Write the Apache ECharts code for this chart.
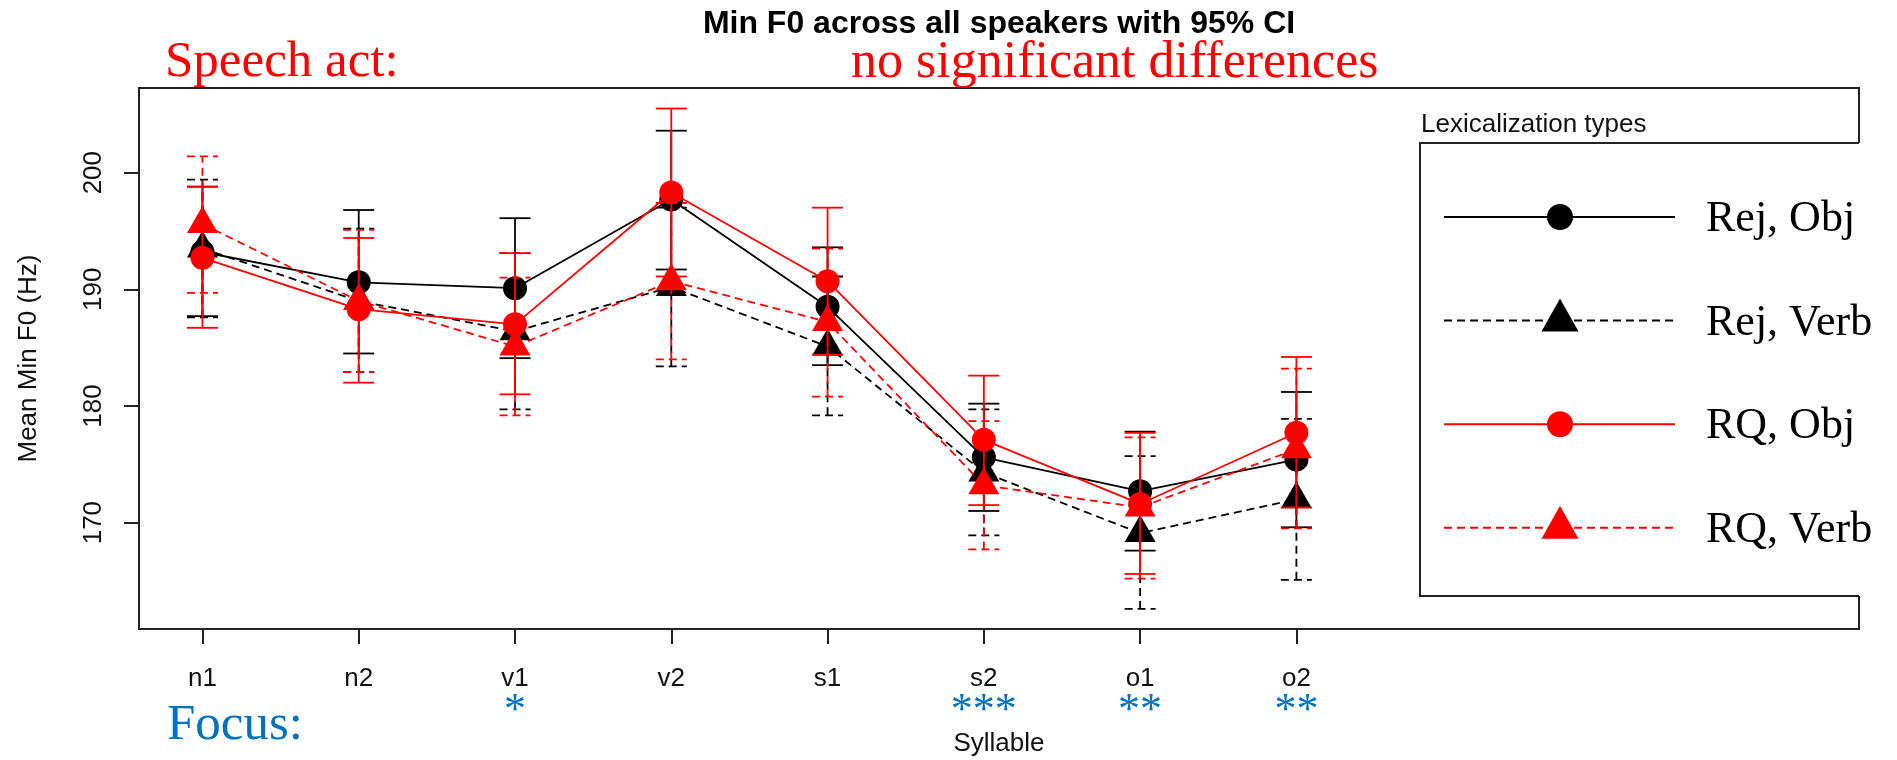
<!DOCTYPE html>
<html>
<head>
<meta charset="utf-8">
<title>Min F0 across all speakers with 95% CI</title>
<script src="https://cdn.jsdelivr.net/npm/echarts@6/dist/echarts.min.js"></script>
<style>
html, body { margin: 0; padding: 0; background: #fff; }
#chart { width: 1897px; height: 760px; }
</style>
</head>
<body>
<div id="chart"></div>
<script>
// syllables on the x axis, and the focus significance marks under them
var syllables = ['n1', 'n2', 'v1', 'v2', 's1', 's2', 'o1', 'o2'];
var focusMarks = ['', '', '*', '', '', '***', '**', '**'];
var yTicks = [170, 180, 190, 200];
var groupNames = ['Rej, Obj', 'Rej, Verb', 'RQ, Obj', 'RQ, Verb'];

// mean Min F0 (Hz) with lower / upper 95% CI, one set per lexicalization type
var rejObjMean = [193.2, 190.6, 190.1, 197.7, 188.5, 175.6, 172.7, 175.4];
var rejObjLow  = [187.7, 184.5, 184.1, 191.7, 183.5, 171.0, 167.6, 169.6];
var rejObjHigh = [198.8, 196.8, 196.1, 203.6, 193.6, 180.2, 177.8, 181.2];

var rejVerbMean = [193.5, 189.0, 186.4, 190.2, 185.1, 174.3, 169.1, 172.0];
var rejVerbLow  = [187.6, 182.9, 179.7, 183.4, 179.2, 168.9, 162.6, 165.1];
var rejVerbHigh = [199.4, 195.2, 193.1, 197.0, 191.1, 179.7, 175.7, 178.9];

var rqObjMean = [192.7, 188.3, 187.0, 198.3, 190.7, 177.1, 171.6, 177.7];
var rqObjLow  = [186.7, 182.0, 181.0, 191.1, 184.4, 171.5, 165.6, 171.3];
var rqObjHigh = [198.8, 194.4, 193.1, 205.5, 197.0, 182.6, 177.7, 184.2];

var rqVerbMean = [195.6, 189.0, 185.1, 190.7, 187.2, 173.2, 171.3, 176.3];
var rqVerbLow  = [189.7, 182.9, 179.2, 184.0, 180.8, 167.7, 165.2, 169.5];
var rqVerbHigh = [201.4, 195.1, 191.0, 197.4, 193.5, 178.7, 177.3, 183.2];

var groups = [
    { mean: rejObjMean, low: rejObjLow, high: rejObjHigh },
    { mean: rejVerbMean, low: rejVerbLow, high: rejVerbHigh },
    { mean: rqObjMean, low: rqObjLow, high: rqObjHigh },
    { mean: rqVerbMean, low: rqVerbLow, high: rqVerbHigh }
];

// looks
var groupStyles = [
    { color: '#000000', dashed: false, symbol: 'circle' },
    { color: '#000000', dashed: true, symbol: 'triangle' },
    { color: '#ff0000', dashed: false, symbol: 'circle' },
    { color: '#ff0000', dashed: true, symbol: 'triangle' }
];
var dash = [8, 5];
var lineW = 1.8;
var capHalf = 15.5;
var sans = '"Liberation Sans", Arial, sans-serif';
var serif = '"Liberation Serif", "Times New Roman", serif';
var blue = '#0070c0';
var frameColor = '#222';

var tickPos = syllables.map(function (s, i) { return i + 1; });

function symbolSize(st) { return st.symbol === 'circle' ? 24 : [31, 27]; }
function symbolOffset(st) { return st.symbol === 'circle' ? [0, 0] : [0, -4.5]; }

function errorBars(st) {
    return function (params, api) {
        var x = api.value(0);
        var lo = api.coord([x, api.value(1)]);
        var hi = api.coord([x, api.value(2)]);
        function s() {
            return { stroke: st.color, lineWidth: lineW, lineDash: st.dashed ? dash : null, fill: null };
        }
        return {
            type: 'group',
            children: [
                { type: 'line', shape: { x1: lo[0], y1: lo[1], x2: hi[0], y2: hi[1] }, style: s() },
                { type: 'line', shape: { x1: lo[0] - capHalf, y1: lo[1], x2: lo[0] + capHalf, y2: lo[1] }, style: s() },
                { type: 'line', shape: { x1: hi[0] - capHalf, y1: hi[1], x2: hi[0] + capHalf, y2: hi[1] }, style: s() }
            ]
        };
    };
}

var series = [];
groups.forEach(function (g, k) {
    var st = groupStyles[k];
    series.push({
        name: groupNames[k],
        type: 'line',
        z: 2 + 2 * k,
        data: g.mean.map(function (v, i) { return [i + 1, v]; }),
        symbol: st.symbol,
        symbolSize: symbolSize(st),
        symbolOffset: symbolOffset(st),
        showAllSymbol: true,
        itemStyle: { color: st.color, borderWidth: 0 },
        lineStyle: { color: st.color, width: lineW, type: st.dashed ? dash : 'solid' },
        emphasis: { disabled: true }
    });
    series.push({
        name: groupNames[k] + ' CI',
        type: 'custom',
        z: 3 + 2 * k,
        renderItem: errorBars(st),
        encode: { x: 0, y: [1, 2] },
        data: g.mean.map(function (v, i) { return [i + 1, g.low[i], g.high[i]]; })
    });
});

// legend box drawn by hand (R style)
var lg = { left: 1420, top: 143, bottom: 596, right: 1859, lineX1: 1444, lineX2: 1675, markX: 1560, textX: 1706, row0: 217, rowStep: 103.6 };
var graphics = [
    { type: 'rect', z: 100, shape: { x: lg.left, y: lg.top, width: 1897 - lg.left, height: lg.bottom - lg.top }, style: { fill: '#fff', stroke: null } },
    { type: 'polyline', z: 101, shape: { points: [[lg.right, lg.top], [lg.left, lg.top], [lg.left, lg.bottom], [lg.right, lg.bottom]] }, style: { stroke: frameColor, lineWidth: 2, fill: null } },
    { type: 'text', z: 101, x: lg.left + 1, y: 125, style: { text: 'Lexicalization types', font: '26px ' + sans, fill: '#111', align: 'left', verticalAlign: 'middle' } },
    { type: 'text', z: 101, x: 999, y: 24, style: { text: 'Min F0 across all speakers with 95% CI', font: 'bold 32px ' + sans, fill: '#000', align: 'center', verticalAlign: 'middle' } },
    { type: 'text', z: 101, x: 165, y: 63, style: { text: 'Speech act:', font: '51px ' + serif, fill: '#ff0000', align: 'left', verticalAlign: 'middle' } },
    { type: 'text', z: 101, x: 851, y: 63, style: { text: 'no significant differences', font: '52px ' + serif, fill: '#ff0000', align: 'left', verticalAlign: 'middle' } },
    { type: 'text', z: 101, x: 167, y: 726, style: { text: 'Focus:', font: '51px ' + serif, fill: blue, align: 'left', verticalAlign: 'middle' } }
];
groupNames.forEach(function (name, k) {
    var st = groupStyles[k];
    var y = lg.row0 + k * lg.rowStep;
    graphics.push({ type: 'line', z: 101, shape: { x1: lg.lineX1, y1: y, x2: lg.lineX2, y2: y }, style: { stroke: st.color, lineWidth: 2, lineDash: st.dashed ? dash : null } });
    if (st.symbol === 'circle') {
        graphics.push({ type: 'circle', z: 102, shape: { cx: lg.markX, cy: y, r: 13 }, style: { fill: st.color } });
    } else {
        graphics.push({ type: 'polygon', z: 102, shape: { points: [[lg.markX, y - 22], [lg.markX + 18.5, y + 11], [lg.markX - 18.5, y + 11]] }, style: { fill: st.color } });
    }
    graphics.push({ type: 'text', z: 102, x: lg.textX, y: y + 2.5, style: { text: name, font: '44px ' + serif, fill: '#000', align: 'left', verticalAlign: 'middle' } });
});

var chart = echarts.init(document.getElementById('chart'));
chart.setOption({
    animation: false,
    backgroundColor: '#fff',
    grid: {
        left: 139, top: 88, width: 1720, height: 541,
        show: true, borderColor: frameColor, borderWidth: 2, backgroundColor: 'transparent',
        containLabel: false, outerBoundsMode: 'none'
    },
    xAxis: [{
        type: 'value', min: 0.594, max: 11.6,
        name: 'Syllable', nameLocation: 'middle', nameGap: 102,
        nameTextStyle: { fontFamily: sans, fontSize: 26, color: '#111', lineHeight: 26 },
        axisLine: { show: false },
        splitLine: { show: false },
        axisTick: { show: true, customValues: tickPos, length: 15, lineStyle: { color: frameColor, width: 2 } },
        axisLabel: {
            customValues: tickPos, margin: 37,
            fontFamily: sans, fontSize: 26, lineHeight: 26, color: '#111',
            formatter: function (v) { return syllables[Math.round(v) - 1] || ''; }
        }
    }, {
        type: 'value', min: 0.594, max: 11.6, position: 'bottom', gridIndex: 0,
        axisLine: { show: false }, axisTick: { show: false }, splitLine: { show: false },
        axisLabel: {
            customValues: tickPos, margin: 60,
            fontFamily: serif, fontSize: 44, lineHeight: 44, color: blue,
            formatter: function (v) { return focusMarks[Math.round(v) - 1] || ''; }
        }
    }],
    yAxis: {
        type: 'value', min: 160.88, max: 207.26,
        name: 'Mean Min F0 (Hz)', nameLocation: 'middle', nameGap: 97, nameRotate: 90,
        nameTextStyle: { fontFamily: sans, fontSize: 26, color: '#111', lineHeight: 26 },
        axisLine: { show: false },
        splitLine: { show: false },
        axisTick: { show: true, customValues: yTicks, length: 15, lineStyle: { color: frameColor, width: 2 } },
        axisLabel: {
            customValues: yTicks, rotate: 90, margin: 32,
            fontFamily: sans, fontSize: 26, lineHeight: 26, color: '#111'
        }
    },
    graphic: graphics,
    series: series
});
</script>
</body>
</html>
